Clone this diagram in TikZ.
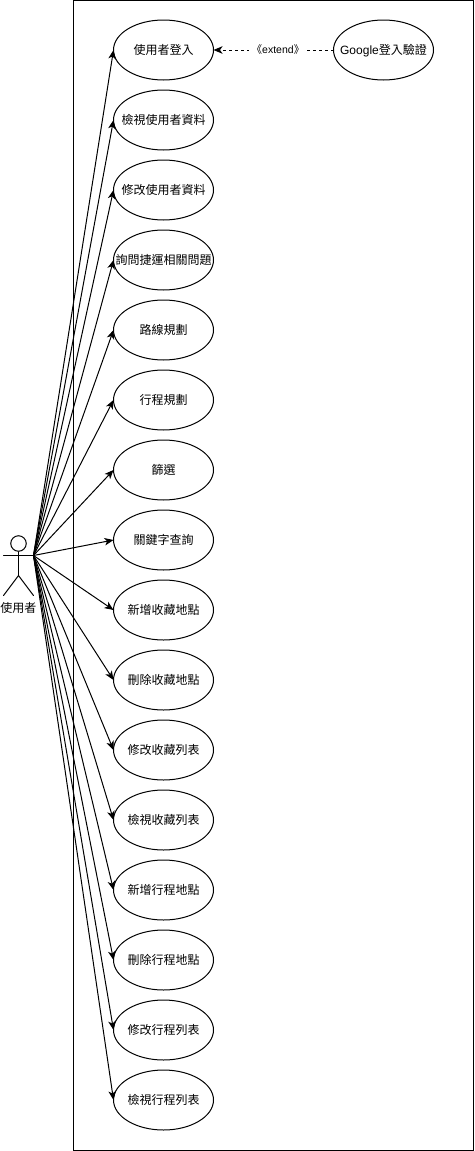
\documentclass[tikz,border=0pt]{standalone}
\usepackage{fontspec}
\setmainfont{Liberation Sans}
\newfontfamily\cjk{Noto Sans CJK TC}
\usetikzlibrary{arrows.meta,shapes.geometric}
\newcommand{\uctext}[1]{\smash{\makebox[0pt]{\raisebox{-4.2pt}{#1}}}}
\tikzset{
  x=1pt,y=-1pt,
  usecase/.style={draw=black,fill=white,ellipse,line width=1pt,outer sep=0pt,minimum width=100pt,minimum height=60pt,inner sep=0pt,font=\fontsize{12}{14}\selectfont\cjk},
  assoc/.style={line width=1pt,-{Stealth[length=9pt,width=7.5pt,inset=2.5pt]}},
  ext/.style={assoc,dash pattern=on 3pt off 3pt},
  actorline/.style={line width=1pt,line cap=round},
  tag/.style={font=\fontsize{12}{14}\selectfont\cjk,inner sep=0pt},
  extlabel/.style={fill=white,inner xsep=3pt,inner ysep=1pt,font=\fontsize{10.5}{13}\selectfont}
}
\begin{document}
\begin{tikzpicture}
\useasboundingbox (0,0) rectangle (474,1151);
\node[draw=black,line width=1pt,outer sep=0pt,minimum width=400pt,minimum height=1149.5pt,inner sep=0pt,anchor=north west] (system) at (73.5,0.5) {};
\foreach \n/\t/\y in {
 a/使用者登入/50,b/檢視使用者資料/120,c/修改使用者資料/190,d/詢問捷運相關問題/260,
 e/路線規劃/330,f/行程規劃/400,g/篩選/470,h/關鍵字查詢/540,
 i/新增收藏地點/610,j/刪除收藏地點/680,k/修改收藏列表/750,l/檢視收藏列表/820,
 m/新增行程地點/890,n/刪除行程地點/960,o/修改行程列表/1030,p/檢視行程列表/1100}{
  \node[usecase] (\n) at (163.5,\y) {\uctext{\t}};
}
\node[usecase] (google) at (383.5,50) {\uctext{{\rmfamily Google}登入驗證}};
% actor
\node[draw=black,circle,line width=1pt,minimum size=15.5pt,inner sep=0pt] (head) at (18.5,543.5) {};
\coordinate (hip) at (18.5,575.5);
\coordinate (armL) at (3.5,555.5);
\coordinate (actor) at (33.5,555.5);
\coordinate (legL) at (3.5,595.5);
\coordinate (legR) at (33.5,595.5);
\draw[actorline] (head.south) -- (hip);
\draw[actorline] (armL) -- (actor);
\draw[actorline] (legL) -- (hip) -- (legR);
\node[tag] (actorname) at (18.5,608) {使用者};
% associations
\foreach \n in {a,b,c,d,e,f,g,h,i,j,k,l,m,n,o,p}{
  \draw[assoc] (actor) -- (\n.west);
}
\draw[ext] (google.west) -- node[extlabel,pos=0.4625] (extname) {{\cjk 《}extend{\cjk 》}} (a.east);
\end{tikzpicture}
\end{document}
